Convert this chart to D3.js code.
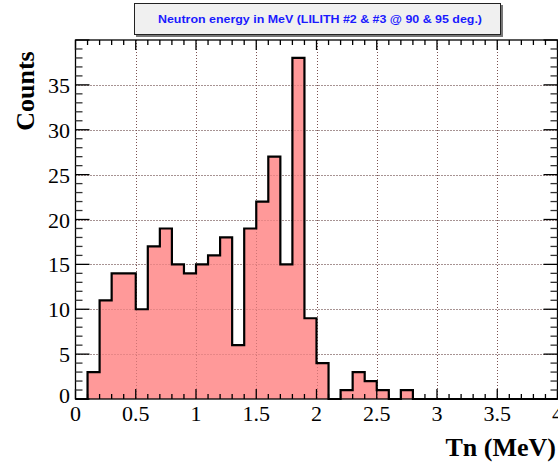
<!DOCTYPE html>
<html><head><meta charset="utf-8">
<script src="https://cdn.jsdelivr.net/npm/d3@7"></script>
<style>body{margin:0;background:#fff}svg{display:block}</style>
</head><body>
<script>
const binEdges = [0,0.1,0.2,0.3,0.4,0.5,0.6,0.7,0.8,0.9,1.0,1.1,1.2,1.3,1.4,1.5,1.6,1.7,1.8,1.9,2.0,2.1,2.2,2.3,2.4,2.5,2.6,2.7,2.8,2.9,3.0,3.1,3.2,3.3,3.4,3.5,3.6,3.7,3.8,3.9,4.0];
const counts = [0,3,11,14,14,10,17,19,15,14,15,16,18,6,19,22,27,15,38,9,4,0,1,3,2,1,0,1,0,0,0,0,0,0,0,0,0,0,0,0];
const xTicks = [0,0.5,1,1.5,2,2.5,3,3.5,4];
const xTickLabels = ["0","0.5","1","1.5","2","2.5","3","3.5","4"];
const yTicks = [0,5,10,15,20,25,30,35];
const yTickLabels = ["0","5","10","15","20","25","30","35"];
const title = "Neutron energy in MeV (LILITH #2 & #3 @ 90 & 95 deg.)";
const xLabel = "Tn (MeV)";
const yLabel = "Counts";

const W = 558, H = 463;
const L = 75.5, R = 557.5, T = 40, B = 399;
const svg = d3.select("body").append("svg").attr("width", W).attr("height", H);
const x = d3.scaleLinear().domain([0,4]).range([L,R]);
const y = d3.scaleLinear().domain([0,40]).range([B,T]);

// grid
const grid = svg.append("g").attr("stroke","#555").attr("stroke-width",1).attr("stroke-dasharray","1,2");
xTicks.slice(1,-1).forEach(v=>grid.append("line").attr("x1",Math.round(x(v))+0.5).attr("x2",Math.round(x(v))+0.5).attr("y1",T).attr("y2",B));
yTicks.slice(1).forEach(v=>grid.append("line").attr("y1",Math.round(y(v))+0.5).attr("y2",Math.round(y(v))+0.5).attr("x1",L).attr("x2",R));

// histogram
const pts = [];
counts.forEach((c,i)=>{ pts.push([x(binEdges[i]), y(c)]); pts.push([x(binEdges[i+1]), y(c)]); });
const area = d3.area().x(d=>d[0]).y0(y(0)).y1(d=>d[1]);
svg.append("path").datum(pts).attr("d", area).attr("fill","#ff9999").attr("opacity",1);
// redraw grid over fill faintly
const grid2 = svg.append("g").attr("stroke","#a05050").attr("stroke-width",1).attr("stroke-dasharray","1,2").attr("opacity",0.5);
xTicks.slice(1,-1).forEach(v=>grid2.append("line").attr("x1",Math.round(x(v))+0.5).attr("x2",Math.round(x(v))+0.5).attr("y1",T).attr("y2",B));
yTicks.slice(1).forEach(v=>grid2.append("line").attr("y1",Math.round(y(v))+0.5).attr("y2",Math.round(y(v))+0.5).attr("x1",L).attr("x2",R));
const line = d3.line().x(d=>d[0]).y(d=>d[1]);
svg.append("path").datum(pts).attr("d", line).attr("fill","none").attr("stroke","#000").attr("stroke-width",2.2);

// frame
svg.append("rect").attr("x",L).attr("y",T).attr("width",R-L).attr("height",B-T).attr("fill","none").attr("stroke","#000").attr("stroke-width",1.3);

// axes ticks via d3 axes
const xMinor = d3.range(0,41).map(i=>i/10);
const yMinor = d3.range(0,41);
const tk = svg.append("g").attr("stroke","#000").attr("stroke-width",1.3);
xMinor.forEach(v=>{
  const major = Math.abs(v*2-Math.round(v*2))<1e-6;
  const len = major?10:5;
  const xx = x(v);
  tk.append("line").attr("x1",xx).attr("x2",xx).attr("y1",B).attr("y2",B-len);
  tk.append("line").attr("x1",xx).attr("x2",xx).attr("y1",T).attr("y2",T+len);
});
yMinor.forEach(v=>{
  const major = v%5===0;
  const len = major?14:7;
  const yy = y(v);
  tk.append("line").attr("y1",yy).attr("y2",yy).attr("x1",L).attr("x2",L+len).attr("stroke",major?"#000":"#333");
  tk.append("line").attr("y1",yy).attr("y2",yy).attr("x1",R).attr("x2",R-len).attr("stroke",major?"#000":"#333");
});

// tick labels
const serif = "'Liberation Serif','Times New Roman',serif";
svg.append("g").selectAll("text").data(xTicks).join("text")
  .attr("x",d=>x(d)).attr("y",421).attr("text-anchor","middle")
  .attr("font-family",serif).attr("font-size",22).text((d,i)=>xTickLabels[i]);
svg.append("g").selectAll("text").data(yTicks).join("text")
  .attr("x",70).attr("y",d=>d===0?y(d)+4:y(d)+8).attr("text-anchor","end")
  .attr("font-family",serif).attr("font-size",22).text((d,i)=>yTickLabels[i]);

// axis titles
svg.append("text").attr("x",556).attr("y",456).attr("text-anchor","end")
  .attr("font-family",serif).attr("font-weight","bold").attr("font-size",26).text(xLabel);
svg.append("text").attr("transform","translate(34,91) rotate(-90)").attr("text-anchor","middle")
  .attr("font-family",serif).attr("font-weight","bold").attr("font-size",26).text(yLabel);

// title box
svg.append("rect").attr("x",136).attr("y",5).attr("width",367).attr("height",32).attr("fill","#777");
svg.append("rect").attr("x",134.5).attr("y",3.5).attr("width",366).attr("height",31).attr("fill","#f0f0f0").attr("stroke","#222").attr("stroke-width",1);
svg.append("text").attr("x",320).attr("y",23).attr("text-anchor","middle")
  .attr("font-family","'Liberation Sans',Arial,sans-serif").attr("font-weight","bold").attr("font-size",11.5)
  .attr("fill","#1a1aff").attr("textLength",324).attr("lengthAdjust","spacingAndGlyphs").text(title);
</script>
</body></html>
